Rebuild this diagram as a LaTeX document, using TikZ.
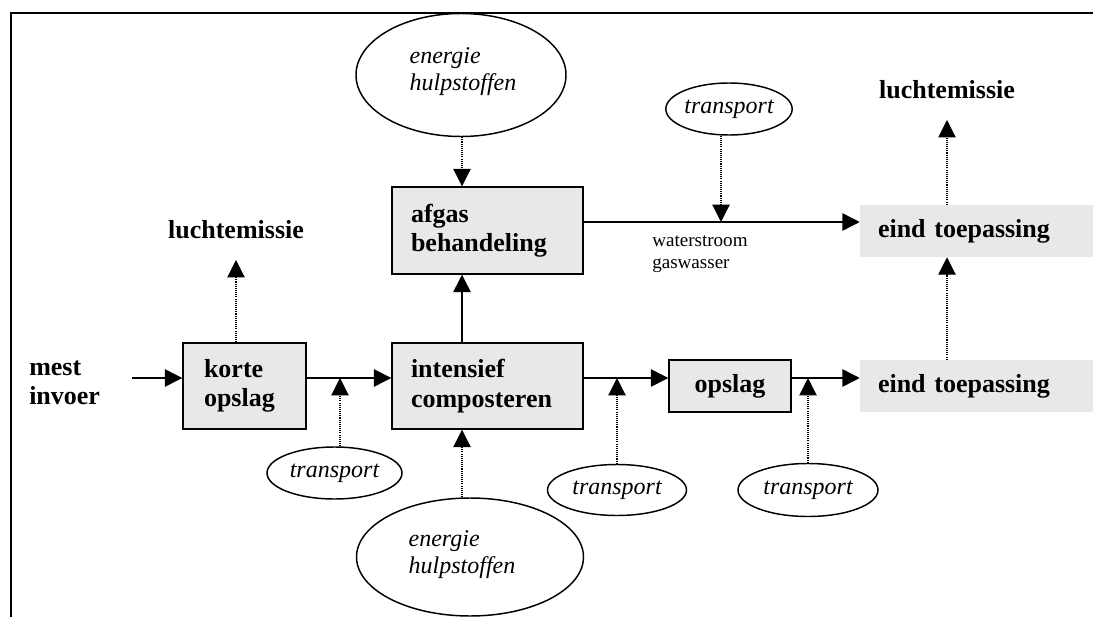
\documentclass[tikz,border=0pt]{standalone}
\usepackage{fontspec}
\setmainfont{Liberation Serif}
\usetikzlibrary{arrows.meta,shapes.geometric,calc}
\definecolor{boxgray}{HTML}{E8E8E8}
\begin{document}
\begin{tikzpicture}[x=0.75pt,y=-0.75pt,
  bold/.style={font=\bfseries\fontsize{19.5}{22}\selectfont},
  box/.style={bold,draw,line width=1.1pt,fill=boxgray,rectangle,inner sep=0pt,align=left},
  endbox/.style={bold,fill=boxgray,rectangle,inner sep=0pt,align=left,
    minimum width=174.75pt,minimum height=39pt,text width=147.75pt},
  ell/.style={draw,ellipse,line width=1.1pt,inner sep=0pt},
  itl/.style={font=\itshape\fontsize{18}{20.25}\selectfont},
  arr/.style={-{Triangle[length=13pt,width=13pt]},line width=1.1pt},
  darr/.style={-{Triangle[length=13pt,width=13pt]},line width=0.8pt,dash pattern=on 0.8pt off 0.8pt},
  emis/.style={bold,anchor=south,inner xsep=0pt,inner ysep=16pt}
]
\useasboundingbox (0,0) rectangle (1093,617);
% frame
\draw[line width=2.2pt] (11,617) -- (11,13) -- (1093,13);

% helper coordinates
\coordinate (row) at (0,378);
\coordinate (row2) at (0,222);
\coordinate (col) at (462,0);
\coordinate (col2) at (947,0);
\coordinate (colt1) at (340,0);
\coordinate (colt4) at (721,0);
\coordinate (mestend) at (132,378);

% boxes
\node[box,minimum width=92.25pt,minimum height=64.5pt,text width=60.75pt] (korte) at (244.5,386) {korte\\opslag};
\node[box,minimum width=143.25pt,minimum height=64.5pt,text width=114.75pt] (intensief) at (487.5,386) {intensief\\composteren};
\node[box,minimum width=143.25pt,minimum height=65.25pt,text width=114.75pt] (afgas) at (487.5,230.5) {afgas\\behandeling};
\node[box,minimum width=91.5pt,minimum height=39pt,align=center] (opslag) at (730,386) {opslag};
\node[endbox] (eind1) at (976.5,231) {eind toepassing};
\node[endbox] (eind2) at (976.5,386) {eind toepassing};

% texts
\node[bold,anchor=west,align=left,inner sep=0pt] (mest) at (29,383) {mest\\invoer};
\node[emis] (lucht1) at (947,120) {luchtemissie};
\node[emis] (lucht2) at (236,260) {luchtemissie};
\node[anchor=west,align=left,inner sep=0pt,font=\fontsize{14.3}{16.5}\selectfont] (water) at (652,254) {waterstroom\\gaswasser};

% ellipses
\node[ell,minimum width=157.5pt,minimum height=92.25pt] (e1) at (461,75) {};
\node[itl,align=left,inner sep=0pt] (e1t) at (463,72) {energie\\hulpstoffen};
\node[ell,minimum width=170.25pt,minimum height=88.5pt] (e2) at (470,557) {};
\node[itl,align=left,inner sep=0pt] (e2t) at (462,555) {energie\\hulpstoffen};
\node[ell,itl,minimum width=101.25pt,minimum height=39pt] (t1) at (334.5,473) {transport};
\node[ell,itl,minimum width=104.25pt,minimum height=38.25pt] (t2) at (617,490) {transport};
\node[ell,itl,minimum width=105pt,minimum height=39.75pt] (t3) at (808,490) {transport};
\node[ell,itl,minimum width=91.5pt,minimum height=39pt] (t4) at (729,109) {transport};

% solid connectors
\draw[arr] (mestend) -- (korte.west |- row);
\draw[arr] (korte.east |- row) -- (intensief.west |- row);
\draw[arr] (intensief.east |- row) -- (opslag.west |- row);
\draw[arr] (opslag.east |- row) -- (eind2.west |- row);
\draw[arr] (col |- intensief.north) -- (col |- afgas.south);
\draw[arr] (afgas.east |- row2) -- (eind1.west |- row2);

% dotted connectors
\draw[darr] (col |- e1.south) -- (col |- afgas.north);
\draw[darr] (col |- e2.north) -- (col |- intensief.south);
\draw[darr] (colt1 |- t1.north) -- (colt1 |- row);
\draw[darr] (t2.north) -- (t2.north |- row);
\draw[darr] (t3.north) -- (t3.north |- row);
\draw[darr] (colt4 |- t4.south) -- (colt4 |- row2);
\draw[darr] (col2 |- eind2.north) -- (col2 |- eind1.south);
\draw[darr] (col2 |- eind1.north) -- (lucht1.south);
\draw[darr] (lucht2.south |- korte.north) -- (lucht2.south);
\end{tikzpicture}
\end{document}
